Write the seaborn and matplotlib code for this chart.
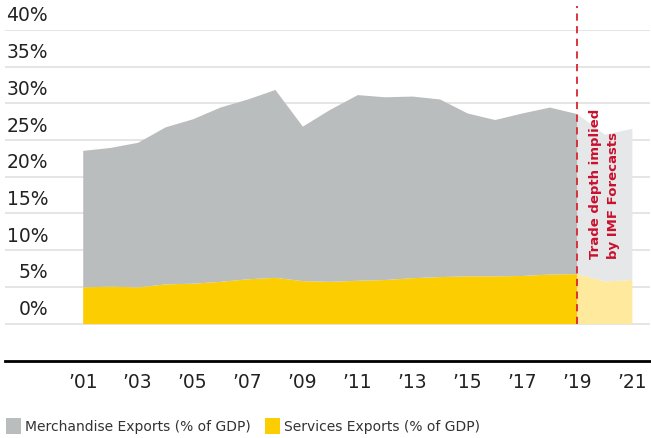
import numpy as np
import pandas as pd
import matplotlib.pyplot as plt
import seaborn as sns
from matplotlib.patches import Patch

# Data (% of GDP)
years = list(range(2001, 2022))
total_exports = [23.6, 24.0, 24.7, 26.8, 27.9, 29.5, 30.6, 31.9, 26.9, 29.2, 31.2,
                 30.9, 31.0, 30.6, 28.7, 27.8, 28.7, 29.5, 28.6, 25.8, 26.6]
services_exports = [5.0, 5.1, 5.0, 5.4, 5.5, 5.75, 6.1, 6.3, 5.85, 5.75, 5.9,
                    6.0, 6.25, 6.4, 6.5, 6.5, 6.55, 6.75, 6.8, 5.8, 6.0]
forecast_start = 2019
y_ticks = [0, 5, 10, 15, 20, 25, 30, 35, 40]
x_ticks = list(range(2001, 2022, 2))
x_labels = ["\u2019%02d" % (y % 100) for y in x_ticks]

df = pd.DataFrame({"year": years, "total": total_exports, "services": services_exports})
hist = df[df.year <= forecast_start]
fcst = df[df.year >= forecast_start]

sns.set_style("white")
plt.rcParams["font.family"] = ["DejaVu Sans"]

grey, yellow = "#babdbe", "#fccd00"
grey_light, yellow_light = "#e6e7e8", "#fee99c"
red = "#d7262e"

fig = plt.figure(figsize=(6.51, 4.39), dpi=100)
ax = fig.add_axes([5 / 651, 77 / 439, 645 / 651, 331 / 439])

# stacked areas
ax.fill_between(hist.year, 0, hist.services, color=yellow, lw=0, zorder=2)
ax.fill_between(hist.year, hist.services, hist.total, color=grey, lw=0, zorder=2)
ax.fill_between(fcst.year, 0, fcst.services, color=yellow_light, lw=0, zorder=2)
ax.fill_between(fcst.year, fcst.services, fcst.total, color=grey_light, lw=0, zorder=2)

ax.set_xlim(1998.17, 2021.66)
ax.set_ylim(-5.1, 40)

# gridlines + y labels sitting above them
for v in y_ticks:
    ax.axhline(v, color="#dedede", lw=1.1, zorder=1)
    ax.text(0.0667, v + 0.75, f"{v}%", transform=ax.get_yaxis_transform(),
            ha="right", va="bottom", fontsize=13.5, color="#222222", clip_on=False)
ax.set_yticks([])

ax.set_xticks(x_ticks)
ax.set_xticklabels(x_labels, fontsize=13.5, color="#222222")
ax.tick_params(axis="x", length=0, pad=8)

sns.despine(ax=ax, left=True, right=True, top=True)
ax.spines["bottom"].set_color("black")
ax.spines["bottom"].set_linewidth(2)

# forecast marker
ax.axvline(forecast_start, ymin=5.1 / 45.1, ymax=(43.3 + 5.1) / 45.1, color=red,
           lw=1.3, ls=(0, (4, 3)), clip_on=False, zorder=3)
ax.text(2020.0, 9.0, "Trade depth implied\nby IMF Forecasts", rotation=90,
        ha="center", va="bottom", multialignment="left", fontsize=9.5,
        linespacing=1.45, fontweight="heavy", color="#c8102e", zorder=4)

handles = [Patch(facecolor=grey, edgecolor="none", label="Merchandise Exports (% of GDP)"),
           Patch(facecolor=yellow, edgecolor="none", label="Services Exports (% of GDP)")]
fig.legend(handles=handles, loc="lower left", bbox_to_anchor=(-0.006, -0.012), ncol=2,
           frameon=False, fontsize=10, handlelength=1.1, handleheight=1.4,
           handletextpad=0.3, columnspacing=1.0, borderaxespad=0.3,
           labelcolor="#333333")

fig.savefig("out.png", dpi=100)
